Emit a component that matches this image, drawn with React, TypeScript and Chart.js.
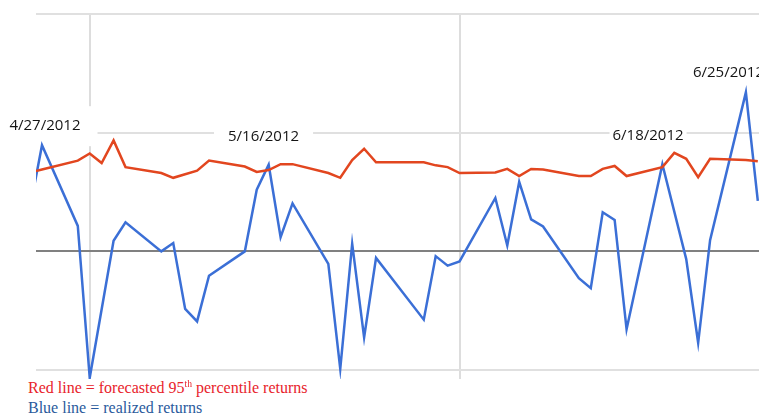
import React, { useEffect, useRef } from "react";
import { Chart, registerables } from "chart.js";

Chart.register(...registerables);

// Trading days shown in the chart
const tradingDates = [
  "2012-04-26", "2012-04-27", "2012-04-30",
  "2012-05-01", "2012-05-02", "2012-05-03", "2012-05-04",
  "2012-05-07", "2012-05-08", "2012-05-09", "2012-05-10", "2012-05-11",
  "2012-05-14", "2012-05-15", "2012-05-16", "2012-05-17", "2012-05-18",
  "2012-05-21", "2012-05-22", "2012-05-23", "2012-05-24", "2012-05-25",
  "2012-05-29", "2012-05-30", "2012-05-31", "2012-06-01",
  "2012-06-04", "2012-06-05", "2012-06-06", "2012-06-07", "2012-06-08",
  "2012-06-11", "2012-06-12", "2012-06-13", "2012-06-14", "2012-06-15",
  "2012-06-18", "2012-06-19", "2012-06-20", "2012-06-21", "2012-06-22",
  "2012-06-25", "2012-06-26",
];

// Red line: forecasted 95th percentile returns (%)
const forecast95 = [
  1.33, 1.38, 1.53,
  1.65, 1.49, 1.87, 1.42,
  1.32, 1.24, null, 1.36, 1.53,
  1.43, 1.34, 1.37, 1.47, 1.47,
  1.32, 1.24, 1.54, 1.73, 1.50,
  1.50, 1.45, 1.42, 1.32,
  1.33, 1.39, 1.27, 1.39, 1.38,
  1.27, 1.27, 1.39, 1.44, 1.27,
  1.42, 1.66, 1.56, 1.25, 1.56,
  1.54, 1.52,
];

// Blue line: realized returns (%)
const realized = [
  0.73, 1.79, 0.43,
  -2.13, null, 0.18, 0.49,
  0.0, 0.14, -0.97, -1.18, -0.41,
  0.0, 1.04, 1.46, 0.24, 0.81,
  -0.21, -1.98, 0.13, -1.45, -0.11,
  -1.15, -0.08, -0.24, -0.17,
  0.90, 0.10, 1.17, 0.54, 0.42,
  -0.45, -0.62, 0.66, 0.53, -1.31,
  1.47, null, -0.13, -1.54, 0.19,
  2.68, 0.85,
];

// Grid positions
const yGridValues = [-2, 0, 2, 4];
const xGridDates = ["2012-05-01", "2012-06-01"];

// Date call-outs (text, anchor date offset in days from 5/1, anchor value)
const calloutTexts = ["4/27/2012", "5/16/2012", "6/18/2012", "6/25/2012"];
const calloutDays = [-3.75, 14.57, 46.8, 53.54];
const calloutValues = [2.11, 1.94, 1.95, 3.01];

const BASE = Date.UTC(2012, 4, 1);
function dayIndex(s: string): number {
  const [yy, mm, dd] = s.split("-").map(Number);
  return (Date.UTC(yy, mm - 1, dd) - BASE) / 86400000;
}

const calloutPads: [number, number][] = [
  [17, 13],
  [14, 9],
  [3, 3],
  [3, 3],
];

const calloutPlugin = {
  id: "callouts",
  beforeDatasetsDraw(chart: any) {
    const { ctx, scales } = chart;
    const xs = scales.x;
    const ys = scales.y;
    ctx.save();
    ctx.font = '15px "Open Sans"';
    ctx.textAlign = "center";
    ctx.textBaseline = "middle";
    calloutTexts.forEach((t, i) => {
      const cx = xs.getPixelForValue(calloutDays[i]);
      const cy = ys.getPixelForValue(calloutValues[i]);
      const w = ctx.measureText(t).width;
      const [px, py] = calloutPads[i];
      ctx.fillStyle = "#ffffff";
      ctx.fillRect(cx - w / 2 - px, cy - 7 - py, w + 2 * px, 14 + 2 * py);
      ctx.fillStyle = "#141414";
      ctx.fillText(t, cx, cy);
    });
    ctx.restore();
  },
};

export default function App() {
  const canvasRef = useRef<HTMLCanvasElement | null>(null);

  useEffect(() => {
    const canvas = canvasRef.current;
    if (!canvas) return;
    const xs = tradingDates.map(dayIndex);
    const redPts = xs.map((x, i) => ({ x, y: forecast95[i] }));
    const bluePts = xs.map((x, i) => ({ x, y: realized[i] }));
    const chart = new Chart(canvas, {
      type: "line",
      data: {
        datasets: [
          {
            label: "Forecasted 95th percentile returns",
            data: redPts as any,
            borderColor: "#e2461f",
            borderWidth: 2.5,
            pointRadius: 0,
            tension: 0,
            spanGaps: true,
          },
          {
            label: "Realized returns",
            data: bluePts as any,
            borderColor: "#3b6fd6",
            borderWidth: 2.5,
            pointRadius: 0,
            tension: 0,
            spanGaps: true,
          },
        ],
      },
      options: {
        animation: false,
        responsive: false,
        maintainAspectRatio: false,
        layout: { padding: { left: 36, top: 14, right: 0, bottom: 0 } },
        plugins: { legend: { display: false }, tooltip: { enabled: false } },
        scales: {
          x: {
            type: "linear",
            min: -4.503,
            max: 56.1,
            afterBuildTicks: (s: any) => {
              s.ticks = xGridDates.map((d) => ({ value: dayIndex(d) }));
            },
            ticks: { display: false },
            grid: { color: "#dddddd", lineWidth: 2, drawTicks: false },
            border: { display: false },
          },
          y: {
            type: "linear",
            min: -2.15,
            max: 4,
            afterBuildTicks: (s: any) => {
              s.ticks = yGridValues.map((v) => ({ value: v }));
            },
            ticks: { display: false },
            grid: {
              color: (c: any) => (c.tick && c.tick.value === 0 ? "#808080" : "#e0e0e0"),
              lineWidth: 2,
              drawTicks: false,
            },
            border: { display: false },
          },
        },
      },
      plugins: [calloutPlugin],
    });
    return () => chart.destroy();
  }, []);

  return (
    <div
      style={{
        position: "absolute",
        left: 0,
        top: 0,
        width: 759,
        height: 416,
        overflow: "hidden",
        background: "#ffffff",
      }}
    >
      <canvas ref={canvasRef} width={759} height={379} style={{ display: "block" }} />
      <div
        style={{
          position: "absolute",
          left: 28,
          top: 379,
          fontFamily: '"Liberation Serif", "Times New Roman", serif',
          fontSize: 16,
          lineHeight: "18px",
          whiteSpace: "nowrap",
        }}
      >
        <div style={{ color: "#e8232b" }}>
          Red line = forecasted 95
          <span style={{ fontSize: "0.6em", position: "relative", top: "-0.6em" }}>th</span>{" "}
          percentile returns
        </div>
        <div style={{ color: "#2a5a9c" }}>Blue line = realized returns</div>
      </div>
    </div>
  );
}
